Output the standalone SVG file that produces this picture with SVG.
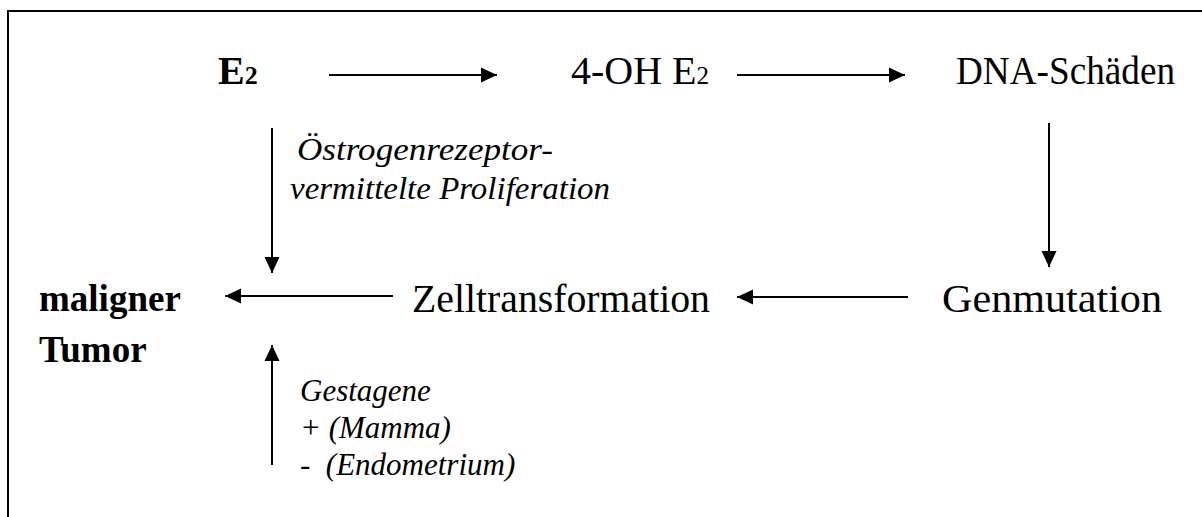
<svg xmlns="http://www.w3.org/2000/svg" width="1202" height="517" viewBox="0 0 1202 517" font-family="'Liberation Serif', 'Times New Roman', serif">
<style>
.t{font-family:"Liberation Serif","Times New Roman",serif;fill:#000}
.r{font-size:40px}
.b{font-weight:bold}
.i{font-style:italic;font-size:31px}
.c{stroke:#000;stroke-width:2;fill:none}
</style>
<defs>
<marker id="ah" markerUnits="userSpaceOnUse" markerWidth="17" markerHeight="17" viewBox="0 0 17 17" refX="16" refY="8.5" orient="auto">
<path d="M0,1 L16,8.5 L0,16 Z" fill="#000"/>
</marker>
</defs>
<rect width="1202" height="517" fill="#fff"/>
<path class="c" d="M8,517 V11 H1202" stroke-width="3"/>
<g id="n-e2"><text class="t b" x="218" y="84" font-size="40">E<tspan font-size="26">2</tspan></text></g>
<g id="n-4oh"><text class="t r" x="571" y="84" font-size="39">4-OH E<tspan font-size="25">2</tspan></text></g>
<g id="n-dna"><text class="t r" x="956" y="84" textLength="219" lengthAdjust="spacingAndGlyphs">DNA-Schäden</text></g>
<g id="n-tumor"><text class="t b" font-size="37" x="39" y="311">maligner</text><text class="t b" font-size="37" x="39" y="362">Tumor</text></g>
<g id="n-zell"><text class="t r" x="412" y="312" textLength="298" lengthAdjust="spacingAndGlyphs">Zelltransformation</text></g>
<g id="n-gen"><text class="t r" x="942" y="312" textLength="220" lengthAdjust="spacingAndGlyphs">Genmutation</text></g>
<g id="l-oest"><text class="t i" font-size="33" x="297" y="160" textLength="256" lengthAdjust="spacingAndGlyphs">Östrogenrezeptor-</text><text class="t i" font-size="33" x="290" y="199" textLength="320" lengthAdjust="spacingAndGlyphs">vermittelte Proliferation</text></g>
<g id="l-gest"><text class="t i" x="300" y="401">Gestagene</text><text class="t i" x="300" y="438">+ (Mamma)</text><text class="t i" x="300" y="475" xml:space="preserve">-  (Endometrium)</text></g>
<g id="connectors">
<line class="c" x1="329" y1="75" x2="497" y2="75" marker-end="url(#ah)"/>
<line class="c" x1="737" y1="75" x2="905" y2="75" marker-end="url(#ah)"/>
<line class="c" x1="272" y1="128" x2="272" y2="273" marker-end="url(#ah)"/>
<line class="c" x1="1049" y1="123" x2="1049" y2="267" marker-end="url(#ah)"/>
<line class="c" x1="393" y1="296" x2="225" y2="296" marker-end="url(#ah)"/>
<line class="c" x1="908" y1="297" x2="737" y2="297" marker-end="url(#ah)"/>
<line class="c" x1="272" y1="465" x2="272" y2="345" marker-end="url(#ah)"/>
</g>
</svg>
